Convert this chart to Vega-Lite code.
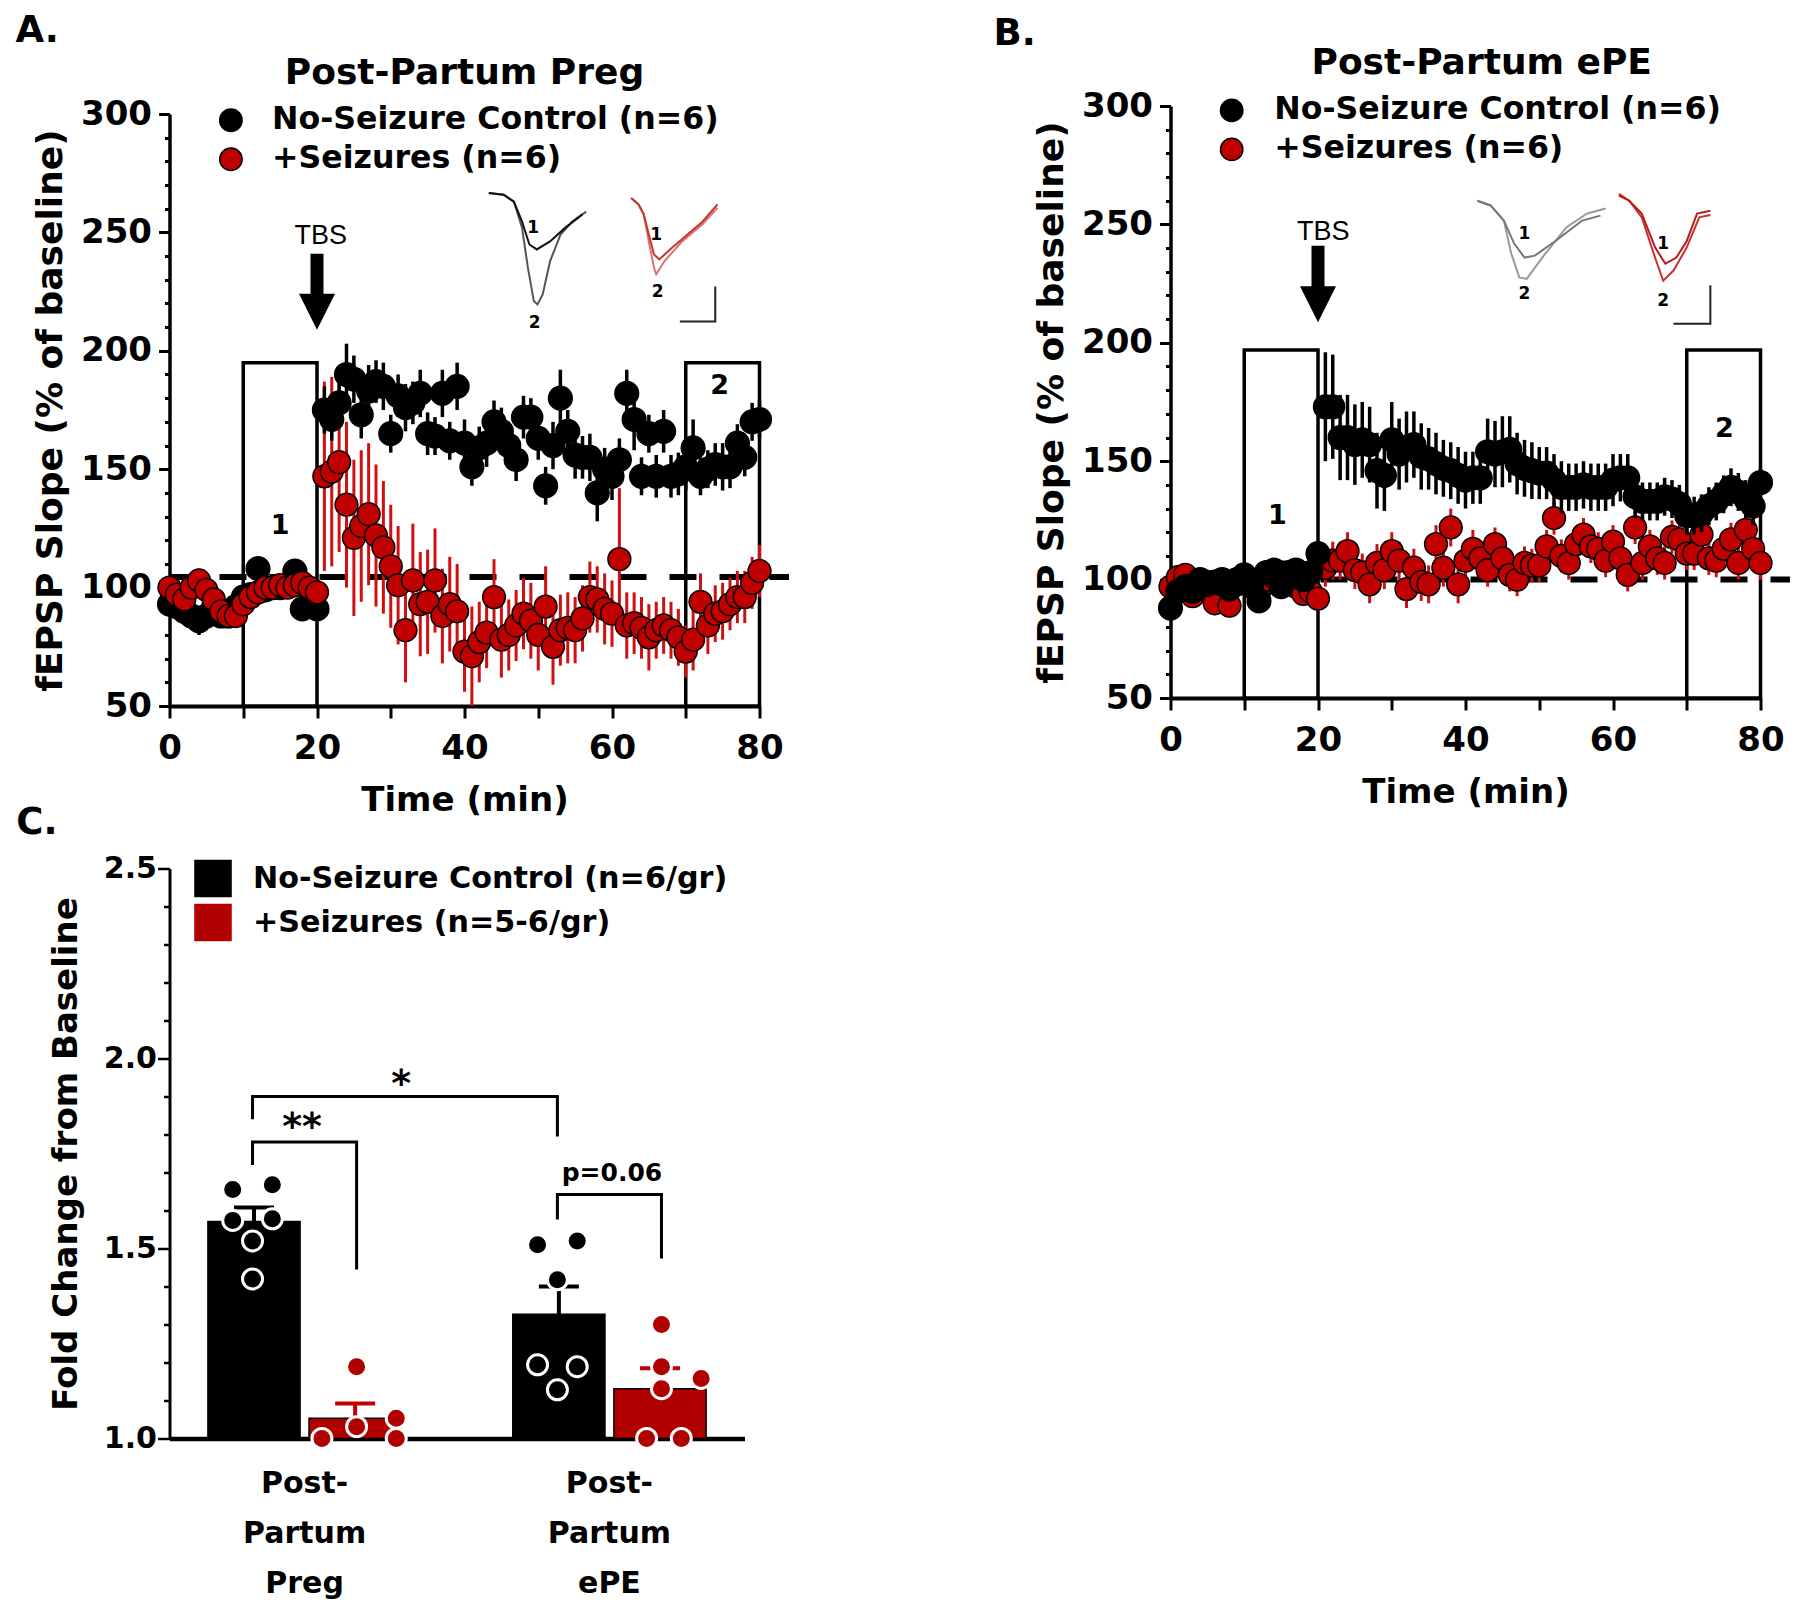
{
"$schema": "https://vega.github.io/schema/vega-lite/v6.json",
"background": "white",
"padding": {"left": 15.5, "top": 11, "right": 0, "bottom": 0},
"config": {
  "font": "DejaVu Sans",
  "view": {"stroke": null},
  "axis": {"domainColor": "black", "tickColor": "black", "labelColor": "black", "titleColor": "black", "labelFontWeight": "bold", "titleFontWeight": "bold", "grid": false, "labelFlush": false, "labelOverlap": false, "labelBound": false},
  "legend": {"labelFontWeight": "bold", "labelColor": "black", "labelLimit": 0, "title": null},
  "title": {"fontWeight": "bold", "color": "black", "anchor": "start", "frame": "bounds", "fontSize": 37}
},
"datasets": {
  "A": [
    {"t":0,"c":93,"ce":4,"s":100,"se":5},{"t":1,"c":92,"ce":4,"s":97,"se":4},{"t":2,"c":90,"ce":4,"s":95,"se":5},{"t":3,"c":88,"ce":5,"s":100,"se":5},{"t":4,"c":86,"ce":6,"s":103,"se":5},
    {"t":5,"c":88,"ce":5,"s":99,"se":5},{"t":6,"c":92,"ce":4,"s":95,"se":5},{"t":7,"c":88,"ce":4,"s":90,"se":5},{"t":8,"c":88,"ce":4,"s":88,"se":4},{"t":9,"c":92,"ce":4,"s":88,"se":4},
    {"t":10,"c":96,"ce":4,"s":93,"se":4},{"t":11,"c":97,"ce":5,"s":96,"se":4},{"t":12,"c":108,"ce":5,"s":98,"se":4},{"t":13,"c":99,"ce":4,"s":100,"se":5},{"t":14,"c":100,"ce":4,"s":100,"se":4},
    {"t":15,"c":100,"ce":4,"s":101,"se":4},{"t":16,"c":101,"ce":4,"s":100,"se":4},{"t":17,"c":107,"ce":5,"s":101,"se":4},{"t":18,"c":91,"ce":4,"s":102,"se":4},{"t":19,"c":93,"ce":4,"s":100,"se":4},
    {"t":20,"c":91,"ce":4,"s":98,"se":4},{"t":21,"c":175,"ce":10,"s":147,"se":40},{"t":22,"c":171,"ce":9,"s":149,"se":40},{"t":23,"c":178,"ce":10,"s":153,"se":38},{"t":24,"c":190,"ce":13,"s":135,"se":35},
    {"t":25,"c":188,"ce":10,"s":121,"se":33},{"t":26,"c":173,"ce":10,"s":126,"se":32},{"t":27,"c":183,"ce":11,"s":131,"se":30},{"t":28,"c":187,"ce":9,"s":122,"se":30},{"t":29,"c":185,"ce":10,"s":117,"se":28},
    {"t":30,"c":165,"ce":8,"s":109,"se":26},{"t":31,"c":181,"ce":9,"s":101,"se":25},{"t":32,"c":176,"ce":10,"s":82,"se":22},{"t":33,"c":178,"ce":9,"s":103,"se":24},{"t":34,"c":182,"ce":10,"s":93,"se":22},
    {"t":35,"c":165,"ce":9,"s":94,"se":22},{"t":36,"c":164,"ce":8,"s":103,"se":22},{"t":37,"c":182,"ce":10,"s":88,"se":20},{"t":38,"c":162,"ce":8,"s":93,"se":20},{"t":39,"c":185,"ce":10,"s":90,"se":20},
    {"t":40,"c":161,"ce":10,"s":73,"se":17},{"t":41,"c":151,"ce":8,"s":71,"se":21},{"t":42,"c":159,"ce":9,"s":77,"se":17},{"t":43,"c":161,"ce":10,"s":81,"se":15},{"t":44,"c":170,"ce":9,"s":96,"se":16},
    {"t":45,"c":166,"ce":10,"s":78,"se":16},{"t":46,"c":160,"ce":9,"s":80,"se":15},{"t":47,"c":154,"ce":9,"s":84,"se":15},{"t":48,"c":172,"ce":9,"s":89,"se":15},{"t":49,"c":172,"ce":8,"s":86,"se":16},
    {"t":50,"c":163,"ce":9,"s":80,"se":15},{"t":51,"c":143,"ce":8,"s":92,"se":17},{"t":52,"c":160,"ce":10,"s":75,"se":16},{"t":53,"c":180,"ce":12,"s":82,"se":15},{"t":54,"c":166,"ce":9,"s":83,"se":15},
    {"t":55,"c":156,"ce":10,"s":82,"se":14},{"t":56,"c":155,"ce":9,"s":87,"se":14},{"t":57,"c":155,"ce":10,"s":96,"se":15},{"t":58,"c":140,"ce":12,"s":95,"se":14},{"t":59,"c":150,"ce":9,"s":91,"se":15},
    {"t":60,"c":147,"ce":10,"s":89,"se":14},{"t":61,"c":154,"ce":9,"s":112,"se":30},{"t":62,"c":182,"ce":10,"s":84,"se":14},{"t":63,"c":171,"ce":13,"s":85,"se":13},{"t":64,"c":147,"ce":8,"s":83,"se":13},
    {"t":65,"c":165,"ce":8,"s":79,"se":14},{"t":66,"c":147,"ce":9,"s":82,"se":12},{"t":67,"c":166,"ce":9,"s":84,"se":12},{"t":68,"c":147,"ce":9,"s":82,"se":12},{"t":69,"c":148,"ce":9,"s":79,"se":12},
    {"t":70,"c":151,"ce":10,"s":73,"se":11},{"t":71,"c":159,"ce":12,"s":78,"se":13},{"t":72,"c":147,"ce":8,"s":94,"se":12},{"t":73,"c":150,"ce":8,"s":84,"se":12},{"t":74,"c":152,"ce":9,"s":89,"se":12},
    {"t":75,"c":151,"ce":10,"s":90,"se":12},{"t":76,"c":151,"ce":9,"s":93,"se":11},{"t":77,"c":161,"ce":8,"s":96,"se":11},{"t":78,"c":155,"ce":8,"s":96,"se":11},{"t":79,"c":170,"ce":8,"s":102,"se":11},
    {"t":80,"c":171,"ce":8,"s":107,"se":11}
  ],
  "B": [
    {"t":0,"c":88,"ce":4,"s":97,"se":5},{"t":1,"c":95,"ce":5,"s":101,"se":5},{"t":2,"c":97,"ce":5,"s":102,"se":5},{"t":3,"c":95,"ce":5,"s":93,"se":5},{"t":4,"c":100,"ce":4,"s":96,"se":5},
    {"t":5,"c":98,"ce":4,"s":99,"se":5},{"t":6,"c":99,"ce":4,"s":90,"se":5},{"t":7,"c":100,"ce":4,"s":98,"se":5},{"t":8,"c":96,"ce":4,"s":89,"se":5},{"t":9,"c":100,"ce":4,"s":98,"se":5},
    {"t":10,"c":102,"ce":5,"s":100,"se":5},{"t":11,"c":97,"ce":5,"s":98,"se":5},{"t":12,"c":91,"ce":5,"s":95,"se":5},{"t":13,"c":103,"ce":5,"s":100,"se":5},{"t":14,"c":104,"ce":5,"s":101,"se":5},
    {"t":15,"c":97,"ce":5,"s":103,"se":5},{"t":16,"c":103,"ce":4,"s":102,"se":5},{"t":17,"c":104,"ce":4,"s":97,"se":5},{"t":18,"c":100,"ce":4,"s":94,"se":5},{"t":19,"c":103,"ce":4,"s":95,"se":5},
    {"t":20,"c":111,"ce":5,"s":92,"se":5},{"t":21,"c":173,"ce":23,"s":105,"se":8},{"t":22,"c":173,"ce":22,"s":108,"se":8},{"t":23,"c":160,"ce":18,"s":108,"se":8},{"t":24,"c":160,"ce":18,"s":112,"se":8},
    {"t":25,"c":157,"ce":17,"s":104,"se":8},{"t":26,"c":159,"ce":16,"s":103,"se":8},{"t":27,"c":157,"ce":16,"s":98,"se":8},{"t":28,"c":146,"ce":16,"s":107,"se":8},{"t":29,"c":144,"ce":15,"s":104,"se":8},
    {"t":30,"c":159,"ce":16,"s":112,"se":8},{"t":31,"c":153,"ce":15,"s":108,"se":8},{"t":32,"c":156,"ce":15,"s":96,"se":8},{"t":33,"c":157,"ce":14,"s":105,"se":8},{"t":34,"c":152,"ce":14,"s":99,"se":8},
    {"t":35,"c":151,"ce":13,"s":98,"se":8},{"t":36,"c":149,"ce":13,"s":115,"se":8},{"t":37,"c":147,"ce":12,"s":105,"se":8},{"t":38,"c":146,"ce":12,"s":122,"se":8},{"t":39,"c":144,"ce":12,"s":98,"se":8},
    {"t":40,"c":142,"ce":12,"s":108,"se":8},{"t":41,"c":143,"ce":11,"s":113,"se":8},{"t":42,"c":143,"ce":11,"s":109,"se":7},{"t":43,"c":154,"ce":14,"s":104,"se":7},{"t":44,"c":153,"ce":14,"s":115,"se":7},
    {"t":45,"c":154,"ce":15,"s":109,"se":7},{"t":46,"c":155,"ce":14,"s":102,"se":7},{"t":47,"c":149,"ce":13,"s":100,"se":7},{"t":48,"c":147,"ce":12,"s":107,"se":7},{"t":49,"c":146,"ce":12,"s":106,"se":7},
    {"t":50,"c":145,"ce":11,"s":106,"se":7},{"t":51,"c":145,"ce":11,"s":114,"se":7},{"t":52,"c":142,"ce":11,"s":126,"se":7},{"t":53,"c":139,"ce":11,"s":110,"se":7},{"t":54,"c":139,"ce":10,"s":107,"se":7},
    {"t":55,"c":139,"ce":10,"s":115,"se":7},{"t":56,"c":140,"ce":10,"s":119,"se":7},{"t":57,"c":139,"ce":10,"s":114,"se":7},{"t":58,"c":139,"ce":10,"s":113,"se":7},{"t":59,"c":139,"ce":10,"s":108,"se":7},
    {"t":60,"c":142,"ce":11,"s":116,"se":7},{"t":61,"c":143,"ce":10,"s":109,"se":7},{"t":62,"c":143,"ce":10,"s":102,"se":7},{"t":63,"c":135,"ce":9,"s":122,"se":7},{"t":64,"c":133,"ce":8,"s":107,"se":7},
    {"t":65,"c":133,"ce":8,"s":114,"se":7},{"t":66,"c":133,"ce":8,"s":109,"se":7},{"t":67,"c":135,"ce":8,"s":107,"se":7},{"t":68,"c":134,"ce":8,"s":118,"se":7},{"t":69,"c":132,"ce":8,"s":117,"se":7},
    {"t":70,"c":127,"ce":8,"s":111,"se":7},{"t":71,"c":127,"ce":8,"s":111,"se":7},{"t":72,"c":128,"ce":8,"s":119,"se":7},{"t":73,"c":131,"ce":8,"s":109,"se":7},{"t":74,"c":133,"ce":8,"s":108,"se":7},
    {"t":75,"c":136,"ce":8,"s":113,"se":7},{"t":76,"c":139,"ce":8,"s":117,"se":7},{"t":77,"c":137,"ce":8,"s":107,"se":7},{"t":78,"c":134,"ce":8,"s":121,"se":7},{"t":79,"c":131,"ce":8,"s":113,"se":7},
    {"t":80,"c":141,"ce":6,"s":107,"se":7}
  ],
  "tracesA": [
    {"k":"b2","o":0,"t":43.3,"v":266.6},{"k":"b2","o":1,"t":45.3,"v":265.9},{"k":"b2","o":2,"t":46.7,"v":263},{"k":"b2","o":3,"t":47.8,"v":252},{"k":"b2","o":4,"t":48.6,"v":235},{"k":"b2","o":5,"t":49.4,"v":221},{"k":"b2","o":6,"t":49.9,"v":219.6},{"k":"b2","o":7,"t":50.6,"v":223.8},{"k":"b2","o":8,"t":51.6,"v":237.8},{"k":"b2","o":9,"t":53,"v":249},{"k":"b2","o":10,"t":54.6,"v":254.6},{"k":"b2","o":11,"t":56.5,"v":258.8},
    {"k":"b1","o":0,"t":43.3,"v":266.6},{"k":"b1","o":1,"t":45.3,"v":265.9},{"k":"b1","o":2,"t":46.7,"v":263},{"k":"b1","o":3,"t":47.8,"v":254.6},{"k":"b1","o":4,"t":48.8,"v":244.9},{"k":"b1","o":5,"t":49.8,"v":242.8},{"k":"b1","o":6,"t":51.6,"v":246.2},{"k":"b1","o":7,"t":53.6,"v":251.8},{"k":"b1","o":8,"t":56,"v":257.6},
    {"k":"r2","o":0,"t":62.6,"v":264.5},{"k":"r2","o":1,"t":63.6,"v":261.8},{"k":"r2","o":2,"t":64.3,"v":257.6},{"k":"r2","o":3,"t":65,"v":246},{"k":"r2","o":4,"t":65.7,"v":235},{"k":"r2","o":5,"t":66,"v":232.3},{"k":"r2","o":6,"t":67.1,"v":237.8},{"k":"r2","o":7,"t":69.5,"v":246.2},{"k":"r2","o":8,"t":72.3,"v":253.5},{"k":"r2","o":9,"t":74.3,"v":260.4},
    {"k":"r1","o":0,"t":62.6,"v":264.5},{"k":"r1","o":1,"t":63.6,"v":261.8},{"k":"r1","o":2,"t":64.3,"v":257.6},{"k":"r1","o":3,"t":65,"v":249},{"k":"r1","o":4,"t":65.7,"v":240.7},{"k":"r1","o":5,"t":66.4,"v":238.6},{"k":"r1","o":6,"t":68.1,"v":243.4},{"k":"r1","o":7,"t":70.2,"v":249},{"k":"r1","o":8,"t":72.3,"v":254.6},{"k":"r1","o":9,"t":74.3,"v":261.8},
    {"k":"sb","o":0,"t":69.2,"v":212.4},{"k":"sb","o":1,"t":74,"v":212.4},{"k":"sb","o":2,"t":74,"v":227.2}
  ],
  "tracesB": [
    {"k":"b2","o":0,"t":41.6,"v":260},{"k":"b2","o":1,"t":43.4,"v":258},{"k":"b2","o":2,"t":45.2,"v":251.6},{"k":"b2","o":3,"t":46.2,"v":237.7},{"k":"b2","o":4,"t":47.3,"v":227.6},{"k":"b2","o":5,"t":48.3,"v":227},{"k":"b2","o":6,"t":50.4,"v":236},{"k":"b2","o":7,"t":53.7,"v":248.8},{"k":"b2","o":8,"t":56.5,"v":254.6},{"k":"b2","o":9,"t":59,"v":256.7},
    {"k":"b1","o":0,"t":41.6,"v":260},{"k":"b1","o":1,"t":43.4,"v":258},{"k":"b1","o":2,"t":45.2,"v":251.6},{"k":"b1","o":3,"t":46.6,"v":241.9},{"k":"b1","o":4,"t":48,"v":236},{"k":"b1","o":5,"t":49.4,"v":236.8},{"k":"b1","o":6,"t":52.2,"v":243},{"k":"b1","o":7,"t":55.8,"v":251.6},{"k":"b1","o":8,"t":58.3,"v":253.7},
    {"k":"r2","o":0,"t":60.8,"v":262.9},{"k":"r2","o":1,"t":62.2,"v":260},{"k":"r2","o":2,"t":63.9,"v":253},{"k":"r2","o":3,"t":65.7,"v":236},{"k":"r2","o":4,"t":66.8,"v":226.2},{"k":"r2","o":5,"t":68.2,"v":230.5},{"k":"r2","o":6,"t":70,"v":240.3},{"k":"r2","o":7,"t":71.7,"v":253},{"k":"r2","o":8,"t":73.2,"v":254},
    {"k":"r1","o":0,"t":60.8,"v":262.2},{"k":"r1","o":1,"t":62.2,"v":260},{"k":"r1","o":2,"t":63.9,"v":254.6},{"k":"r1","o":3,"t":65.7,"v":240.3},{"k":"r1","o":4,"t":67.1,"v":233.4},{"k":"r1","o":5,"t":68.6,"v":236},{"k":"r1","o":6,"t":70,"v":243},{"k":"r1","o":7,"t":71.4,"v":254.6},{"k":"r1","o":8,"t":73.2,"v":255.8},
    {"k":"sb","o":0,"t":68.2,"v":208},{"k":"sb","o":1,"t":73.2,"v":208},{"k":"sb","o":2,"t":73.2,"v":224.3}
  ],
  "bars": [
    {"grp":"Preg","cond":"ctrl","m":1.571,"hi":1.608},
    {"grp":"Preg","cond":"seiz","m":1.053,"hi":1.092},
    {"grp":"ePE","cond":"ctrl","m":1.327,"hi":1.40},
    {"grp":"ePE","cond":"seiz","m":1.131,"hi":1.185}
  ],
  "ptsC": [
    {"grp":"Preg","cond":"ctrl","slot":5,"v":1.655},{"grp":"Preg","cond":"ctrl","slot":13,"v":1.668},{"grp":"Preg","cond":"ctrl","slot":5,"v":1.574},{"grp":"Preg","cond":"ctrl","slot":13,"v":1.578},{"grp":"Preg","cond":"ctrl","slot":9,"v":1.52},{"grp":"Preg","cond":"ctrl","slot":9,"v":1.42},
    {"grp":"Preg","cond":"seiz","slot":23,"v":1.0},{"grp":"Preg","cond":"seiz","slot":30,"v":1.189},{"grp":"Preg","cond":"seiz","slot":30,"v":1.031},{"grp":"Preg","cond":"seiz","slot":38,"v":1.053},{"grp":"Preg","cond":"seiz","slot":38,"v":1.0},
    {"grp":"ePE","cond":"ctrl","slot":5,"v":1.51},{"grp":"ePE","cond":"ctrl","slot":13,"v":1.52},{"grp":"ePE","cond":"ctrl","slot":9,"v":1.418},{"grp":"ePE","cond":"ctrl","slot":5,"v":1.194},{"grp":"ePE","cond":"ctrl","slot":13,"v":1.189},{"grp":"ePE","cond":"ctrl","slot":9,"v":1.128},
    {"grp":"ePE","cond":"seiz","slot":30,"v":1.30},{"grp":"ePE","cond":"seiz","slot":30,"v":1.189},{"grp":"ePE","cond":"seiz","slot":38,"v":1.158},{"grp":"ePE","cond":"seiz","slot":30,"v":1.131},{"grp":"ePE","cond":"seiz","slot":27,"v":1.0},{"grp":"ePE","cond":"seiz","slot":34,"v":1.0}
  ],
  "brk": [
    {"b":"a","o":0,"grp":"Preg","slot":9,"v":1.72},{"b":"a","o":1,"grp":"Preg","slot":9,"v":1.78},{"b":"a","o":2,"grp":"Preg","slot":30,"v":1.78},{"b":"a","o":3,"grp":"Preg","slot":30,"v":1.445},
    {"b":"b","o":0,"grp":"Preg","slot":9,"v":1.84},{"b":"b","o":1,"grp":"Preg","slot":9,"v":1.90},{"b":"b","o":2,"grp":"ePE","slot":9,"v":1.90},{"b":"b","o":3,"grp":"ePE","slot":9,"v":1.795},
    {"b":"c","o":0,"grp":"ePE","slot":9,"v":1.576},{"b":"c","o":1,"grp":"ePE","slot":9,"v":1.642},{"b":"c","o":2,"grp":"ePE","slot":30,"v":1.642},{"b":"c","o":3,"grp":"ePE","slot":30,"v":1.474}
  ]
},
"concat": [
  {
    "width": 590, "height": 592,
    "title": {"text": "A.", "dx": -17, "offset": 5},
    "resolve": {"scale": {"y": "independent"}},
    "layer": [
      {"layer": [
        {"data": {"values": [{"x1":10,"x2":20,"y1":50,"y2":195},{"x1":70,"x2":80,"y1":50,"y2":195}]},
         "mark": {"type": "rect", "fill": "white", "stroke": "black", "strokeWidth": 3.5},
         "encoding": {
           "x": {"field": "x1", "type": "quantitative", "scale": {"domain": [0, 80], "nice": false}, "title": "Time (min)",
                 "axis": {"values": [0,5,10,15,20,25,30,35,40,45,50,55,60,65,70,75,80], "labelExpr": "datum.value % 20 == 0 ? datum.label : ''", "labelOverlap": false, "tickSize": 12, "tickWidth": 3, "domainWidth": 4, "labelFontSize": 34, "labelPadding": 13, "titleFontSize": 34, "titlePadding": 18}},
           "x2": {"field": "x2"},
           "y": {"field": "y1", "type": "quantitative", "scale": {"domain": [50, 300], "nice": false, "zero": false}, "title": "fEPSP Slope (% of baseline)",
                 "axis": {"values": [50,100,150,200,250,300], "labelOverlap": false, "tickSize": 11, "tickWidth": 3, "domainWidth": 3.5, "labelFontSize": 34, "labelPadding": 7, "titleFontSize": 36, "titlePadding": 11}},
           "y2": {"field": "y2"}
         }},
        {"data": {"values": [{"x1":0,"x2":84,"y":104.5}]},
         "mark": {"type": "rule", "strokeDash": [27, 23], "strokeWidth": 6, "color": "black"},
         "encoding": {"x": {"field": "x1", "type": "quantitative"}, "x2": {"field": "x2"}, "y": {"field": "y", "type": "quantitative"}}},
        {"data": {"values": [{"t":15,"v":126,"txt":"1"},{"t":74.6,"v":185,"txt":"2"}]},
         "mark": {"type": "text", "fontSize": 27, "fontWeight": "bold", "color": "black"},
         "encoding": {"x": {"field": "t", "type": "quantitative"}, "y": {"field": "v", "type": "quantitative"}, "text": {"field": "txt"}}},
        {"data": {"name": "A"},
         "mark": {"type": "errorbar", "thickness": 3, "color": "#d01010"},
         "encoding": {"x": {"field": "t", "type": "quantitative"}, "y": {"field": "s", "type": "quantitative", "title": "fEPSP Slope (% of baseline)"}, "yError": {"field": "se"}}},
        {"data": {"name": "A"},
         "mark": {"type": "errorbar", "thickness": 3.5, "color": "black"},
         "encoding": {"x": {"field": "t", "type": "quantitative"}, "y": {"field": "c", "type": "quantitative", "title": "fEPSP Slope (% of baseline)"}, "yError": {"field": "ce"}}},
        {"data": {"name": "A"},
         "mark": {"type": "point", "filled": true, "shape": "circle", "size": 560, "stroke": "black", "strokeWidth": 1.5, "opacity": 1},
         "encoding": {"x": {"field": "t", "type": "quantitative"}, "y": {"field": "c", "type": "quantitative", "title": "fEPSP Slope (% of baseline)"},
           "fill": {"datum": "ctrl", "type": "nominal", "scale": {"domain": ["ctrl", "seiz"], "range": ["#000000", "#c00000"]},
                    "legend": {"orient": "none", "legendX": 45.6, "legendY": -9.5, "symbolType": "circle", "symbolSize": 500, "symbolStrokeColor": "black", "symbolStrokeWidth": 1.5, "labelFontSize": 31.6, "labelOffset": 25.4, "rowPadding": 6, "padding": 0, "labelExpr": "datum.value == 'ctrl' ? 'No-Seizure Control (n=6)' : '+Seizures (n=6)'"}}}},
        {"data": {"name": "A"},
         "mark": {"type": "point", "filled": true, "shape": "circle", "size": 520, "stroke": "black", "strokeWidth": 1.5, "opacity": 1},
         "encoding": {"x": {"field": "t", "type": "quantitative"}, "y": {"field": "s", "type": "quantitative", "title": "fEPSP Slope (% of baseline)"}, "fill": {"datum": "seiz", "type": "nominal"}}},
        {"data": {"name": "tracesA"},
         "mark": {"type": "line", "strokeWidth": 2},
         "encoding": {"x": {"field": "t", "type": "quantitative"}, "y": {"field": "v", "type": "quantitative"}, "detail": {"field": "k"}, "order": {"field": "o"},
           "color": {"field": "k", "type": "nominal", "scale": {"domain": ["b1","b2","r1","r2","sb"], "range": ["#111111","#555555","#c0392b","#e07070","#222222"]}, "legend": null}}},
        {"data": {"values": [{"t":49.3,"v":251.8,"txt":"1"},{"t":49.5,"v":211.7,"txt":"2"},{"t":66,"v":249,"txt":"1"},{"t":66.2,"v":225,"txt":"2"}]},
         "mark": {"type": "text", "fontSize": 17, "fontWeight": "bold", "color": "black"},
         "encoding": {"x": {"field": "t", "type": "quantitative"}, "y": {"field": "v", "type": "quantitative"}, "text": {"field": "txt"}}},
        {"data": {"values": [{"t":20.5,"v":248.3,"txt":"TBS"}]},
         "mark": {"type": "text", "fontSize": 27, "font": "Liberation Sans", "color": "black"},
         "encoding": {"x": {"field": "t", "type": "quantitative"}, "y": {"field": "v", "type": "quantitative"}, "text": {"field": "txt"}}},
        {"data": {"values": [{"t":20,"v1":241,"v2":222}]},
         "mark": {"type": "rule", "strokeWidth": 13, "color": "black"},
         "encoding": {"x": {"field": "t", "type": "quantitative"}, "y": {"field": "v1", "type": "quantitative"}, "y2": {"field": "v2"}}},
        {"data": {"values": [{"t":20,"v":216.5}]},
         "mark": {"type": "point", "filled": true, "shape": "M-1,-1L1,-1L0,1Z", "size": 1296, "color": "black", "opacity": 1},
         "encoding": {"x": {"field": "t", "type": "quantitative"}, "y": {"field": "v", "type": "quantitative"}}},
        {"data": {"values": [{"t":40,"v":317.5,"txt":"Post-Partum Preg"}]},
         "mark": {"type": "text", "fontSize": 36, "fontWeight": "bold", "color": "black"},
         "encoding": {"x": {"field": "t", "type": "quantitative"}, "y": {"field": "v", "type": "quantitative"}, "text": {"field": "txt"}}}
      ]},
      {"data": {"values": [{"y": 50}]},
       "mark": {"type": "rule", "opacity": 0},
       "encoding": {"y": {"field": "y", "type": "quantitative", "scale": {"domain": [50, 300], "nice": false, "zero": false},
         "axis": {"orient": "left", "values": [60,70,80,90,110,120,130,140,160,170,180,190,210,220,230,240,260,270,280,290], "labels": false, "domain": false, "tickSize": 5, "tickWidth": 3, "title": null}}}}
    ]
  },
  {
    "width": 590, "height": 584,
    "title": {"text": "B.", "dx": -40, "offset": -7.6},
    "resolve": {"scale": {"y": "independent"}},
    "layer": [
      {"layer": [
        {"data": {"values": [{"x1":10,"x2":20,"y1":50,"y2":197},{"x1":70,"x2":80,"y1":50,"y2":197}]},
         "mark": {"type": "rect", "fill": "white", "stroke": "black", "strokeWidth": 3.5},
         "encoding": {
           "x": {"field": "x1", "type": "quantitative", "scale": {"domain": [0, 80], "nice": false}, "title": "Time (min)",
                 "axis": {"values": [0,5,10,15,20,25,30,35,40,45,50,55,60,65,70,75,80], "labelExpr": "datum.value % 20 == 0 ? datum.label : ''", "labelOverlap": false, "tickSize": 12, "tickWidth": 3, "domainWidth": 4, "labelFontSize": 34, "labelPadding": 13, "titleFontSize": 34, "titlePadding": 18}},
           "x2": {"field": "x2"},
           "y": {"field": "y1", "type": "quantitative", "scale": {"domain": [50, 300], "range": [584, -8], "nice": false, "zero": false}, "title": "fEPSP Slope (% of baseline)",
                 "axis": {"values": [50,100,150,200,250,300], "labelOverlap": false, "tickSize": 11, "tickWidth": 3, "domainWidth": 3.5, "labelFontSize": 34, "labelPadding": 7, "titleFontSize": 36, "titlePadding": 11}},
           "y2": {"field": "y2"}
         }},
        {"data": {"values": [{"x1":0,"x2":84,"y":100}]},
         "mark": {"type": "rule", "strokeDash": [27, 23], "strokeWidth": 6, "color": "black"},
         "encoding": {"x": {"field": "x1", "type": "quantitative"}, "x2": {"field": "x2"}, "y": {"field": "y", "type": "quantitative"}}},
        {"data": {"values": [{"t":14.5,"v":127,"txt":"1"},{"t":75.1,"v":163.5,"txt":"2"}]},
         "mark": {"type": "text", "fontSize": 27, "fontWeight": "bold", "color": "black"},
         "encoding": {"x": {"field": "t", "type": "quantitative"}, "y": {"field": "v", "type": "quantitative"}, "text": {"field": "txt"}}},
        {"data": {"name": "B"},
         "mark": {"type": "errorbar", "thickness": 3, "color": "#d01010"},
         "encoding": {"x": {"field": "t", "type": "quantitative"}, "y": {"field": "s", "type": "quantitative", "title": "fEPSP Slope (% of baseline)"}, "yError": {"field": "se"}}},
        {"data": {"name": "B"},
         "mark": {"type": "point", "filled": true, "shape": "circle", "size": 520, "stroke": "black", "strokeWidth": 1.5, "opacity": 1},
         "encoding": {"x": {"field": "t", "type": "quantitative"}, "y": {"field": "s", "type": "quantitative", "title": "fEPSP Slope (% of baseline)"},
           "fill": {"datum": "seiz", "type": "nominal", "scale": {"domain": ["ctrl", "seiz"], "range": ["#000000", "#c00000"]},
                    "legend": {"orient": "none", "legendX": 45.4, "legendY": -19.4, "symbolType": "circle", "symbolSize": 500, "symbolStrokeColor": "black", "symbolStrokeWidth": 1.5, "labelFontSize": 31.6, "labelOffset": 26.8, "rowPadding": 6, "padding": 0, "labelExpr": "datum.value == 'ctrl' ? 'No-Seizure Control (n=6)' : '+Seizures (n=6)'"}}}},
        {"data": {"name": "B"},
         "mark": {"type": "errorbar", "thickness": 3.5, "color": "black"},
         "encoding": {"x": {"field": "t", "type": "quantitative"}, "y": {"field": "c", "type": "quantitative", "title": "fEPSP Slope (% of baseline)"}, "yError": {"field": "ce"}}},
        {"data": {"name": "B"},
         "mark": {"type": "point", "filled": true, "shape": "circle", "size": 560, "stroke": "black", "strokeWidth": 1.5, "opacity": 1},
         "encoding": {"x": {"field": "t", "type": "quantitative"}, "y": {"field": "c", "type": "quantitative", "title": "fEPSP Slope (% of baseline)"}, "fill": {"datum": "ctrl", "type": "nominal"}}},
        {"data": {"name": "tracesB"},
         "mark": {"type": "line", "strokeWidth": 2},
         "encoding": {"x": {"field": "t", "type": "quantitative"}, "y": {"field": "v", "type": "quantitative"}, "detail": {"field": "k"}, "order": {"field": "o"},
           "color": {"field": "k", "type": "nominal", "scale": {"domain": ["b1","b2","r1","r2","sb"], "range": ["#777777","#999999","#b51d1d","#c83030","#222222"]}, "legend": null}}},
        {"data": {"values": [{"t":48,"v":246,"txt":"1"},{"t":48,"v":220.7,"txt":"2"},{"t":66.8,"v":241.9,"txt":"1"},{"t":66.8,"v":217.8,"txt":"2"}]},
         "mark": {"type": "text", "fontSize": 17, "fontWeight": "bold", "color": "black"},
         "encoding": {"x": {"field": "t", "type": "quantitative"}, "y": {"field": "v", "type": "quantitative"}, "text": {"field": "txt"}}},
        {"data": {"values": [{"t":20.7,"v":247,"txt":"TBS"}]},
         "mark": {"type": "text", "fontSize": 27, "font": "Liberation Sans", "color": "black"},
         "encoding": {"x": {"field": "t", "type": "quantitative"}, "y": {"field": "v", "type": "quantitative"}, "text": {"field": "txt"}}},
        {"data": {"values": [{"t":20,"v1":241,"v2":222}]},
         "mark": {"type": "rule", "strokeWidth": 13, "color": "black"},
         "encoding": {"x": {"field": "t", "type": "quantitative"}, "y": {"field": "v1", "type": "quantitative"}, "y2": {"field": "v2"}}},
        {"data": {"values": [{"t":20,"v":216.3}]},
         "mark": {"type": "point", "filled": true, "shape": "M-1,-1L1,-1L0,1Z", "size": 1296, "color": "black", "opacity": 1},
         "encoding": {"x": {"field": "t", "type": "quantitative"}, "y": {"field": "v", "type": "quantitative"}}},
        {"data": {"values": [{"t":42.2,"v":318,"txt":"Post-Partum ePE"}]},
         "mark": {"type": "text", "fontSize": 36, "fontWeight": "bold", "color": "black"},
         "encoding": {"x": {"field": "t", "type": "quantitative"}, "y": {"field": "v", "type": "quantitative"}, "text": {"field": "txt"}}}
      ]},
      {"data": {"values": [{"y": 50}]},
       "mark": {"type": "rule", "opacity": 0},
       "encoding": {"y": {"field": "y", "type": "quantitative", "scale": {"domain": [50, 300], "range": [584, -8], "nice": false, "zero": false},
         "axis": {"orient": "left", "values": [60,70,80,90,110,120,130,140,160,170,180,190,210,220,230,240,260,270,280,290], "labels": false, "domain": false, "tickSize": 5, "tickWidth": 3, "title": null}}}}
    ]
  },
  {
    "width": 575, "height": 570,
    "title": {"text": "C.", "dx": -33, "offset": 11.3},
    "resolve": {"scale": {"y": "independent"}},
    "layer": [
      {"resolve": {"scale": {"xOffset": "independent"}},
       "layer": [
        {"data": {"name": "bars"},
         "mark": {"type": "bar", "stroke": "black", "strokeWidth": 1.5},
         "encoding": {
           "x": {"field": "grp", "type": "nominal", "scale": {"domain": ["Preg", "ePE"], "paddingInner": 0.366, "paddingOuter": 0.126}, "title": null,
                 "axis": {"ticks": false, "domainWidth": 4.5, "labelFontSize": 30, "labelPadding": 30, "labelLineHeight": 50, "labelAngle": 0, "labelBaseline": "top", "labelExpr": "datum.value == 'Preg' ? ['Post-','Partum','Preg'] : ['Post-','Partum','ePE']"}},
           "xOffset": {"field": "cond", "type": "nominal", "scale": {"domain": ["ctrl", "seiz"], "paddingInner": 0.0887, "paddingOuter": 0}},
           "y": {"field": "m", "type": "quantitative", "scale": {"domain": [1, 2.5], "zero": false, "nice": false}, "title": "Fold Change from Baseline",
                 "axis": {"values": [1, 1.5, 2, 2.5], "format": ".1f", "labelOverlap": false, "tickSize": 12, "tickWidth": 2.5, "domainWidth": 3, "labelFontSize": 30, "labelPadding": 1, "titleFontSize": 34, "titlePadding": 20}},
           "y2": {"datum": 1},
           "fill": {"field": "cond", "type": "nominal", "scale": {"domain": ["ctrl", "seiz"], "range": ["#000000", "#b00000"]},
                    "legend": {"orient": "none", "legendX": 24.5, "legendY": -9, "symbolType": "square", "symbolSize": 1300, "symbolStrokeColor": "black", "symbolStrokeWidth": 1.5, "labelFontSize": 30.2, "labelOffset": 21, "rowPadding": 0, "padding": 0, "labelExpr": "datum.value == 'ctrl' ? 'No-Seizure Control (n=6/gr)' : '+Seizures (n=5-6/gr)'"}}
         }},
        {"data": {"name": "bars"},
         "mark": {"type": "rule", "strokeWidth": 4},
         "encoding": {
           "x": {"field": "grp", "type": "nominal"},
           "xOffset": {"field": "cond", "type": "nominal", "scale": {"domain": ["ctrl", "seiz"], "paddingInner": 0.0887, "paddingOuter": 0}},
           "y": {"field": "m", "type": "quantitative"}, "y2": {"field": "hi"},
           "color": {"field": "cond", "type": "nominal", "scale": {"domain": ["ctrl", "seiz"], "range": ["#000000", "#c00000"]}, "legend": null}
         }},
        {"data": {"name": "bars"},
         "mark": {"type": "tick", "size": 40, "thickness": 4, "opacity": 1},
         "encoding": {
           "x": {"field": "grp", "type": "nominal"},
           "xOffset": {"field": "cond", "type": "nominal", "scale": {"domain": ["ctrl", "seiz"], "paddingInner": 0.0887, "paddingOuter": 0}},
           "y": {"field": "hi", "type": "quantitative"},
           "color": {"field": "cond", "type": "nominal"}
         }},
        {"data": {"name": "ptsC"},
         "mark": {"type": "point", "filled": true, "shape": "circle", "size": 400, "stroke": "white", "strokeWidth": 3, "opacity": 1},
         "encoding": {
           "x": {"field": "grp", "type": "nominal"},
           "xOffset": {"field": "slot", "type": "ordinal", "scale": {"domain": [0,1,2,3,4,5,6,7,8,9,10,11,12,13,14,15,16,17,18,19,20,21,22,23,24,25,26,27,28,29,30,31,32,33,34,35,36,37,38,39], "paddingInner": 0, "paddingOuter": 0}},
           "y": {"field": "v", "type": "quantitative"},
           "fill": {"field": "cond", "type": "nominal"}
         }},
        {"data": {"name": "brk"},
         "mark": {"type": "line", "color": "black", "strokeWidth": 3},
         "encoding": {
           "x": {"field": "grp", "type": "nominal"},
           "xOffset": {"field": "slot", "type": "ordinal", "scale": {"domain": [0,1,2,3,4,5,6,7,8,9,10,11,12,13,14,15,16,17,18,19,20,21,22,23,24,25,26,27,28,29,30,31,32,33,34,35,36,37,38,39], "paddingInner": 0, "paddingOuter": 0}},
           "y": {"field": "v", "type": "quantitative"},
           "detail": {"field": "b"}, "order": {"field": "o"}
         }},
        {"data": {"values": [{"grp":"Preg","slot":19,"v":1.818,"txt":"**"},{"grp":"Preg","slot":39,"v":1.93,"txt":"*"}]},
         "mark": {"type": "text", "fontSize": 38, "fontWeight": "bold", "color": "black"},
         "encoding": {
           "x": {"field": "grp", "type": "nominal"},
           "xOffset": {"field": "slot", "type": "ordinal", "scale": {"domain": [0,1,2,3,4,5,6,7,8,9,10,11,12,13,14,15,16,17,18,19,20,21,22,23,24,25,26,27,28,29,30,31,32,33,34,35,36,37,38,39], "paddingInner": 0, "paddingOuter": 0}},
           "y": {"field": "v", "type": "quantitative"},
           "text": {"field": "txt"}
         }},
        {"data": {"values": [{"grp":"ePE","slot":20,"v":1.70,"txt":"p=0.06"}]},
         "mark": {"type": "text", "fontSize": 25, "fontWeight": "bold", "color": "black"},
         "encoding": {
           "x": {"field": "grp", "type": "nominal"},
           "xOffset": {"field": "slot", "type": "ordinal", "scale": {"domain": [0,1,2,3,4,5,6,7,8,9,10,11,12,13,14,15,16,17,18,19,20,21,22,23,24,25,26,27,28,29,30,31,32,33,34,35,36,37,38,39], "paddingInner": 0, "paddingOuter": 0}},
           "y": {"field": "v", "type": "quantitative"},
           "text": {"field": "txt"}
         }}
      ]},
      {"data": {"values": [{"y": 1}]},
       "mark": {"type": "rule", "opacity": 0},
       "encoding": {"y": {"field": "y", "type": "quantitative", "scale": {"domain": [1, 2.5], "nice": false, "zero": false},
         "axis": {"orient": "left", "values": [1.1,1.2,1.3,1.4,1.6,1.7,1.8,1.9,2.1,2.2,2.3,2.4], "labels": false, "domain": false, "tickSize": 6, "tickWidth": 2.5, "title": null}}}}
    ]
  }
],
"columns": 2,
"align": "none",
"spacing": {"row": -13.5, "column": 201},
"resolve": {"scale": {"fill": "independent", "color": "independent"}, "legend": {"fill": "independent"}}
}
